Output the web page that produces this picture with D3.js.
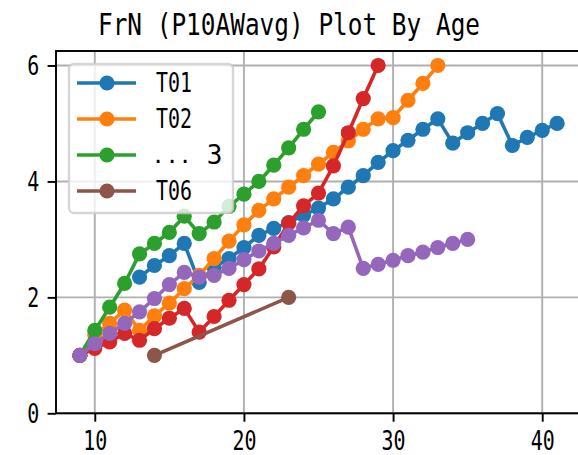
<!DOCTYPE html>
<html>
<head>
<meta charset="utf-8">
<script src="https://cdn.jsdelivr.net/npm/d3@7"></script>
<style>
  html, body { margin: 0; padding: 0; background: #fff; }
  svg { display: block; }
  text { font-family: "DejaVu Sans Mono", "Liberation Mono", monospace; fill: #000; }
</style>
</head>
<body>
<svg id="chart" width="578" height="455"></svg>
<script>
// ---------- data ----------
const title = "FrN (P10AWavg) Plot By Age";
const xTicks = [10, 20, 30, 40];
const yTicks = [0, 2, 4, 6];

const t01Ages = d3.range(13, 42);
const t01Vals = [2.35,2.55,2.72,2.93,2.26,2.52,2.67,2.86,3.07,3.19,3.29,3.42,3.54,3.70,3.90,4.10,4.33,4.53,4.71,4.90,5.08,4.66,4.84,5.00,5.17,4.62,4.76,4.88,5.00];

const t02Ages = d3.range(9, 34);
const t02Vals = [1.0,1.35,1.55,1.78,1.43,1.68,1.90,2.15,2.38,2.67,2.97,3.25,3.50,3.70,3.90,4.10,4.30,4.50,4.70,4.90,5.08,5.10,5.40,5.69,6.0];

const t03Ages = d3.range(9, 26);
const t03Vals = [1.0,1.43,1.83,2.24,2.75,2.93,3.12,3.40,3.10,3.30,3.57,3.78,4.00,4.28,4.58,4.90,5.20];

const t04Ages = d3.range(9, 30);
const t04Vals = [1.0,1.12,1.23,1.38,1.26,1.46,1.64,1.81,1.40,1.67,1.95,2.22,2.49,2.87,3.28,3.58,3.80,4.27,4.84,5.43,6.0];

const t05Ages = d3.range(9, 36);
const t05Vals = [1.0,1.20,1.38,1.55,1.75,1.98,2.22,2.43,2.35,2.38,2.50,2.65,2.80,2.93,3.07,3.20,3.33,3.10,3.21,2.50,2.57,2.64,2.72,2.78,2.86,2.93,3.0];

const t06Ages = [14, 23];
const t06Vals = [1.0, 2.0];

const seriesColors = ["#1f77b4", "#ff7f0e", "#2ca02c", "#d62728", "#9467bd", "#8c564b"];
const legendLabels = ["T01", "T02", "...3", "T06"];
const legendColors = ["#1f77b4", "#ff7f0e", "#2ca02c", "#8c564b"];

const series = [
  [t01Ages, t01Vals], [t02Ages, t02Vals], [t03Ages, t03Vals],
  [t04Ages, t04Vals], [t05Ages, t05Vals], [t06Ages, t06Vals]
].map((s, i) => ({ color: seriesColors[i], pts: s[0].map((a, j) => [a, s[1][j]]) }));

// ---------- layout ----------
const svg = d3.select("#chart");
const L = 56, R = 581, T = 51, B = 413.3;
const x = d3.scaleLinear().domain([7.4, 42.6]).range([L, R]);
const y = d3.scaleLinear().domain([0, 6.25]).range([B, T]);
const EM = 24;        // nominal em (half-width glyph = 12px)
const GLYPH = 26;     // rendered glyph size (taller, narrow like SimHei)
const lw = 1.92;
const MR = 7.6;

function fitText(sel, em) {
  sel.each(function () {
    const t = d3.select(this);
    const n = t.text().length;
    t.attr("textLength", n * em * 0.5).attr("lengthAdjust", "spacingAndGlyphs");
  });
}

// grid
const g = svg.append("g");
g.selectAll(".gx").data(xTicks).join("line")
  .attr("x1", d => x(d)).attr("x2", d => x(d)).attr("y1", T).attr("y2", B)
  .attr("stroke", "#b0b0b0").attr("stroke-width", lw);
g.selectAll(".gy").data(yTicks).join("line")
  .attr("x1", L).attr("x2", R).attr("y1", d => y(d)).attr("y2", d => y(d))
  .attr("stroke", "#b0b0b0").attr("stroke-width", lw);

// series
const line = d3.line().x(d => x(d[0])).y(d => y(d[1]));
series.forEach(s => {
  const sg = svg.append("g");
  sg.append("path").attr("d", line(s.pts)).attr("fill", "none")
    .attr("stroke", s.color).attr("stroke-width", 3.6)
    .attr("stroke-linejoin", "round").attr("stroke-linecap", "square");
  sg.selectAll("circle").data(s.pts).join("circle")
    .attr("cx", d => x(d[0])).attr("cy", d => y(d[1])).attr("r", MR)
    .attr("fill", s.color);
});

// axes
const xAxis = d3.axisBottom(x).tickValues(xTicks).tickSize(8.4).tickPadding(8.4).tickFormat(d3.format("d"));
const yAxis = d3.axisLeft(y).tickValues(yTicks).tickSize(8.4).tickPadding(8.4).tickFormat(d3.format("d"));
const xg = svg.append("g").attr("transform", `translate(0,${B})`).call(xAxis);
const yg = svg.append("g").attr("transform", `translate(${L},0)`).call(yAxis);
[xg, yg].forEach(a => {
  a.select(".domain").remove();
  a.selectAll(".tick line").attr("stroke", "#000").attr("stroke-width", lw);
  a.selectAll(".tick text").attr("font-size", GLYPH).attr("font-family", "DejaVu Sans Mono").attr("fill", "#000");
});
xg.selectAll(".tick text").attr("dy", null).attr("y", 37);
yg.selectAll(".tick text").attr("dy", "0.36em");
fitText(xg.selectAll(".tick text"), EM);
fitText(yg.selectAll(".tick text"), EM);

// spines
svg.append("rect").attr("x", L).attr("y", T).attr("width", R - L).attr("height", B - T)
  .attr("fill", "none").attr("stroke", "#000").attr("stroke-width", lw);

// legend
const lg = svg.append("g");
lg.append("rect").attr("x", 69).attr("y", 64).attr("width", 164).attr("height", 149)
  .attr("rx", 5).attr("fill", "#fff").attr("fill-opacity", 0.8)
  .attr("stroke", "#cccccc").attr("stroke-opacity", 0.8).attr("stroke-width", 2.4);
legendLabels.forEach((lab, i) => {
  const cy = 83 + i * 36;
  lg.append("line").attr("x1", 77).attr("x2", 136).attr("y1", cy).attr("y2", cy)
    .attr("stroke", legendColors[i]).attr("stroke-width", 3.6);
  lg.append("circle").attr("cx", 107).attr("cy", cy).attr("r", MR).attr("fill", legendColors[i]);
  if (lab === "...3") {
    const xs = [158, 172, 185, 214.5];
    lab.split("").forEach((ch, k) => {
      lg.append("text").attr("x", xs[k]).attr("y", cy).attr("dy", "0.36em")
        .attr("font-size", ch === "." ? 22 : GLYPH).attr("text-anchor", "middle").text(ch);
    });
  } else {
    lg.append("text").attr("x", 156).attr("y", cy).attr("dy", "0.36em")
      .attr("font-size", GLYPH).text(lab).call(fitText, EM);
  }
});

// title (narrow glyphs via horizontal scale)
const TS = 30, tScale = 14.7 / (0.602 * TS);
svg.append("text").attr("transform", `translate(289,35) scale(${tScale},1)`)
  .attr("text-anchor", "middle").attr("font-size", TS).text(title);
</script>
</body>
</html>
